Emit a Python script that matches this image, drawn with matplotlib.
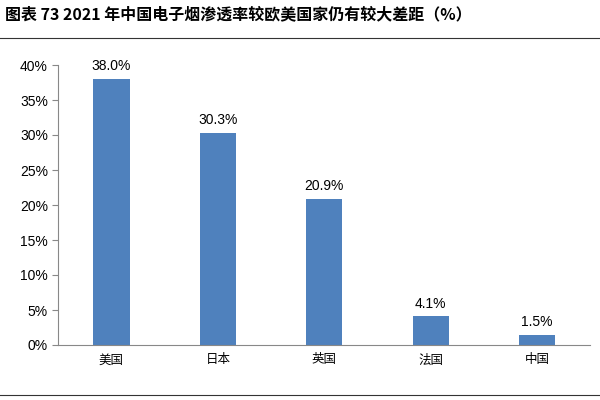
import matplotlib

matplotlib.use("Agg")
import matplotlib.pyplot as plt
from matplotlib.lines import Line2D
from matplotlib.ticker import FuncFormatter

plt.rcParams["font.family"] = ["Noto Sans CJK SC", "DejaVu Sans"]

laender = ["美国", "日本", "英国", "法国", "中国"]
quote = [38.0, 30.3, 20.9, 4.1, 1.5]
y_ticks = [0, 5, 10, 15, 20, 25, 30, 35, 40]

fig = plt.figure(figsize=(6, 4), dpi=100)
ax = fig.add_axes([0.097, 0.1375, 0.887, 0.7])

x = range(len(laender))
ax.bar(x, quote, width=0.34, color="#4F81BD")
for xi, v in zip(x, quote):
    ax.text(xi, v + 0.8, f"{v:.1f}%", ha="center", va="bottom", fontsize=10,
            family=["Liberation Sans", "DejaVu Sans"])

ax.set_xlim(-0.5, len(laender) - 0.5)
ax.set_ylim(0, 40)
ax.set_yticks(y_ticks)
ax.yaxis.set_major_formatter(FuncFormatter(lambda v, _: f"{v:.0f}%"))
ax.set_xticks(list(x))
ax.set_xticklabels(laender, fontsize=9)
for lab in ax.get_yticklabels():
    lab.set_fontsize(10)
    lab.set_family(["Liberation Sans", "DejaVu Sans"])
ax.tick_params(axis="x", length=0, pad=6)
ax.tick_params(axis="y", length=4, direction="out", color="#888888")
for s in ["top", "right"]:
    ax.spines[s].set_visible(False)
ax.spines["left"].set_color("#888888")
ax.spines["bottom"].set_color("#888888")

fig.text(0.008, 0.965, "图表 73 2021 年中国电子烟渗透率较欧美国家仍有较大差距（%）",
         fontsize=11.5, fontweight="bold", ha="left", va="center")
fig.add_artist(Line2D([0, 1], [0.905, 0.905], color="#333333", lw=0.8,
                      transform=fig.transFigure))
fig.add_artist(Line2D([0, 1], [0.012, 0.012], color="#333333", lw=0.8,
                      transform=fig.transFigure))

fig.savefig("out.png", dpi=100)
